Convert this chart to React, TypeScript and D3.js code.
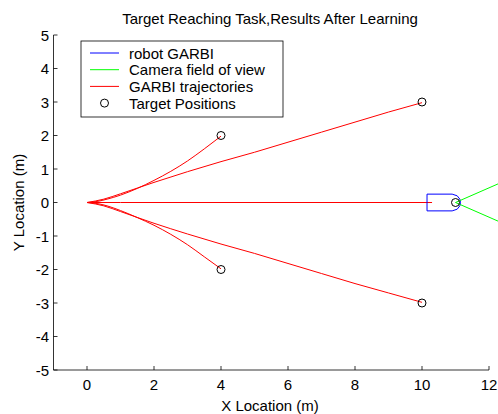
import React from 'react';
import * as d3 from 'd3';

// trajectories of the robot
const trajUp1: [number, number][] = [[0, 0], [0.3, 0.03], [0.6, 0.1], [1, 0.22], [1.5, 0.42], [2, 0.66], [2.5, 0.93], [3, 1.24], [3.5, 1.6], [4, 1.98]];
const trajUp2: [number, number][] = [[0, 0], [0.5, 0.1], [1, 0.26], [2, 0.6], [3, 0.92], [4, 1.22], [5, 1.5], [6, 1.8], [7, 2.1], [8, 2.4], [9, 2.7], [10, 2.98]];
const trajMid: [number, number][] = [[0, 0], [1, 0], [2, 0], [4, 0], [6, 0], [8, 0], [10.3, 0]];
const trajDn1: [number, number][] = [[0, 0], [0.3, -0.03], [0.6, -0.1], [1, -0.24], [1.5, -0.45], [2, -0.68], [2.5, -0.95], [3, -1.26], [3.5, -1.62], [4, -1.98]];
const trajDn2: [number, number][] = [[0, 0], [0.5, -0.1], [1, -0.27], [2, -0.62], [3, -0.94], [4, -1.24], [5, -1.52], [6, -1.82], [7, -2.12], [8, -2.42], [9, -2.7], [10, -2.98]];
const trajectories = [trajUp1, trajUp2, trajMid, trajDn1, trajDn2];

const targets: [number, number][] = [[4, 2], [10, 3], [4, -2], [10, -3], [11, 0]];

const robot: [number, number][] = [[10.15, 0.25], [10.9, 0.25], [11.05, 0.2], [11.13, 0.1], [11.15, 0], [11.13, -0.1], [11.05, -0.2], [10.9, -0.25], [10.15, -0.25], [10.15, 0.25]];
const camera: [number, number][][] = [[[11, 0], [12.6, 0.7]], [[11, 0], [12.6, -0.7]]];

const xTicks = [0, 2, 4, 6, 8, 10, 12];
const yTicks = [-5, -4, -3, -2, -1, 0, 1, 2, 3, 4, 5];
const legendItems = ['robot GARBI', 'Camera field of view', 'GARBI trajectories', 'Target Positions'];
const legendColors = ['#0000ff', '#00ff00', '#ff0000', null];

export default function App() {
  const width = 498;
  const height = 414;
  const x = d3.scaleLinear().domain([-1, 12]).range([53.5, 489]);
  const y = d3.scaleLinear().domain([-5, 5]).range([370, 35]);
  const line = d3.line<[number, number]>().x((d) => x(d[0])).y((d) => y(d[1]));
  const curve = d3.line<[number, number]>().x((d) => x(d[0])).y((d) => y(d[1])).curve(d3.curveMonotoneX);
  const font = 'Liberation Sans, Arial, sans-serif';
  const fs = 15;

  return (
    <svg width={width} height={height} style={{ position: 'absolute', left: 0, top: 0, background: '#fff' }} fontFamily={font}>
      <rect width={width} height={height} fill="#fff" />
      <text x={270} y={24} fontSize={fs} textAnchor="middle">Target Reaching Task,Results After Learning</text>

      {/* axes */}
      <line x1={x(-1)} x2={x(-1)} y1={y(5)} y2={y(-5)} stroke="#000" strokeWidth={0.8} />
      <line x1={x(-1)} x2={x(12)} y1={y(-5)} y2={y(-5)} stroke="#000" strokeWidth={0.8} />
      {xTicks.map((t) => (
        <g key={'x' + t}>
          <line x1={x(t)} x2={x(t)} y1={y(-5)} y2={y(-5) - 4} stroke="#000" strokeWidth={0.8} />
          <text x={x(t)} y={y(-5) + 20} fontSize={fs} textAnchor="middle">{t}</text>
        </g>
      ))}
      {yTicks.map((t) => (
        <g key={'y' + t}>
          <line x1={x(-1)} x2={x(-1) + 4} y1={y(t)} y2={y(t)} stroke="#000" strokeWidth={0.8} />
          <text x={x(-1) - 4.5} y={y(t) + 5.5} fontSize={fs} textAnchor="end">{t}</text>
        </g>
      ))}
      <text x={270} y={411} fontSize={fs} textAnchor="middle">X Location (m)</text>
      <text transform={`translate(24,${y(0)}) rotate(-90)`} fontSize={fs} textAnchor="middle">Y Location (m)</text>

      {/* trajectories */}
      {trajectories.map((t, i) => (
        <path key={'t' + i} d={curve(t) || ''} fill="none" stroke="#ff0000" strokeWidth={1} />
      ))}
      <path d={line(robot) || ''} fill="none" stroke="#0000ff" strokeWidth={1} />
      {camera.map((c, i) => (
        <path key={'c' + i} d={line(c) || ''} fill="none" stroke="#00ff00" strokeWidth={1} />
      ))}
      {targets.map((p, i) => (
        <circle key={'p' + i} cx={x(p[0])} cy={y(p[1])} r={4} fill="none" stroke="#000" strokeWidth={1} />
      ))}

      {/* legend */}
      <rect x={81} y={41} width={202} height={76} fill="#fff" stroke="#000" strokeWidth={0.8} />
      {legendItems.map((name, i) => {
        const ly = 53 + i * 16.7;
        const c = legendColors[i];
        return (
          <g key={name}>
            {c ? (
              <line x1={90} x2={119} y1={ly} y2={ly} stroke={c} strokeWidth={1} />
            ) : (
              <circle cx={104.5} cy={ly} r={4} fill="none" stroke="#000" strokeWidth={1} />
            )}
            <text x={129} y={ly + 5.5} fontSize={fs}>{name}</text>
          </g>
        );
      })}
    </svg>
  );
}
